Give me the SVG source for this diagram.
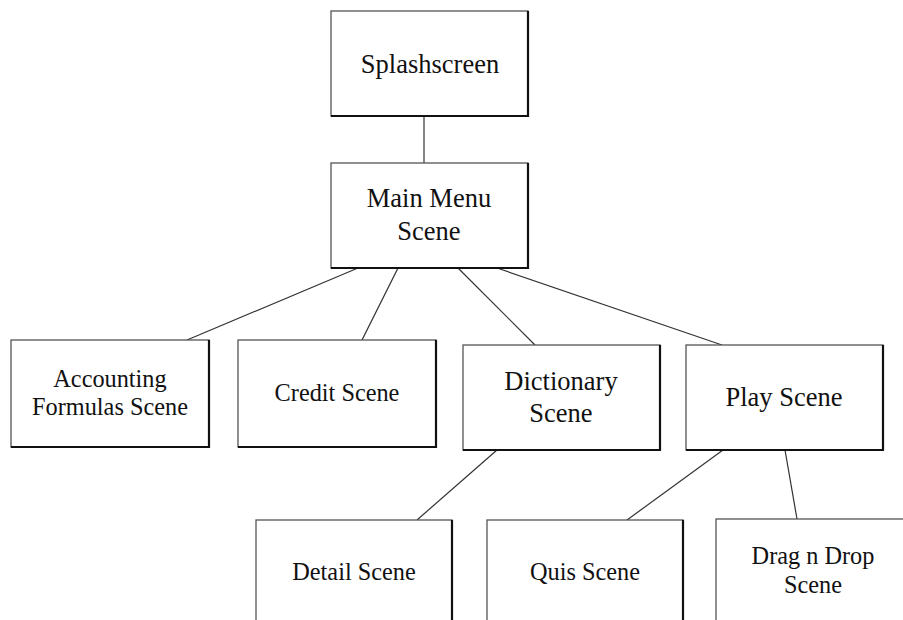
<svg xmlns="http://www.w3.org/2000/svg" width="903" height="620" viewBox="0 0 903 620">
<style>
.box{fill:#fff;stroke:#555;stroke-width:1.3}
.sh{fill:none;stroke:#111;stroke-width:2.2}
.t{font-family:"Liberation Serif","Times New Roman",serif;fill:#111;text-anchor:middle}
.l{font-size:26.5px}
.s{font-size:24.3px}
.c{stroke:#333;stroke-width:1.2;fill:none}
</style>
<rect width="903" height="620" fill="#fff"/>
<g id="connectors">
<line class="c" x1="424" y1="116" x2="424" y2="163"/>
<line class="c" x1="358" y1="268" x2="187" y2="340"/>
<line class="c" x1="398" y1="268" x2="362" y2="340"/>
<line class="c" x1="458" y1="268" x2="535" y2="345"/>
<line class="c" x1="497" y1="268" x2="722" y2="345"/>
<line class="c" x1="497" y1="450" x2="417" y2="520"/>
<line class="c" x1="723" y1="450" x2="627" y2="520"/>
<line class="c" x1="785" y1="450" x2="797" y2="519"/>
</g>
<g id="splash">
<rect class="box" x="331" y="11" width="197" height="105"/>
<path class="sh" d="M528 11V116H331"/>
<text class="t l" x="430" y="73">Splashscreen</text>
</g>
<g id="mainmenu">
<rect class="box" x="331" y="163" width="197" height="105"/>
<path class="sh" d="M528 163V268H331"/>
<text class="t l" x="429" y="207">Main Menu</text>
<text class="t l" x="429" y="240">Scene</text>
</g>
<g id="accounting">
<rect class="box" x="11" y="340" width="198" height="107"/>
<path class="sh" d="M209 340V447H11"/>
<text class="t s" x="110" y="387">Accounting</text>
<text class="t s" x="110" y="415">Formulas Scene</text>
</g>
<g id="credit">
<rect class="box" x="238" y="340" width="198" height="107"/>
<path class="sh" d="M436 340V447H238"/>
<text class="t s" x="337" y="401">Credit Scene</text>
</g>
<g id="dictionary">
<rect class="box" x="463" y="345" width="197" height="105"/>
<path class="sh" d="M660 345V450H463"/>
<text class="t l" x="561" y="390">Dictionary</text>
<text class="t l" x="561" y="422">Scene</text>
</g>
<g id="play">
<rect class="box" x="686" y="345" width="197" height="105"/>
<path class="sh" d="M883 345V450H686"/>
<text class="t l" x="784" y="406">Play Scene</text>
</g>
<g id="detail">
<rect class="box" x="256" y="520" width="196" height="120"/>
<path class="sh" d="M452 520V640"/>
<text class="t s" x="354" y="580">Detail Scene</text>
</g>
<g id="quis">
<rect class="box" x="487" y="520" width="196" height="120"/>
<path class="sh" d="M683 520V640"/>
<text class="t s" x="585" y="580">Quis Scene</text>
</g>
<g id="dragdrop">
<rect class="box" x="716" y="519" width="197" height="120"/>
<text class="t s" x="813" y="564">Drag n Drop</text>
<text class="t s" x="813" y="593">Scene</text>
</g>
</svg>
